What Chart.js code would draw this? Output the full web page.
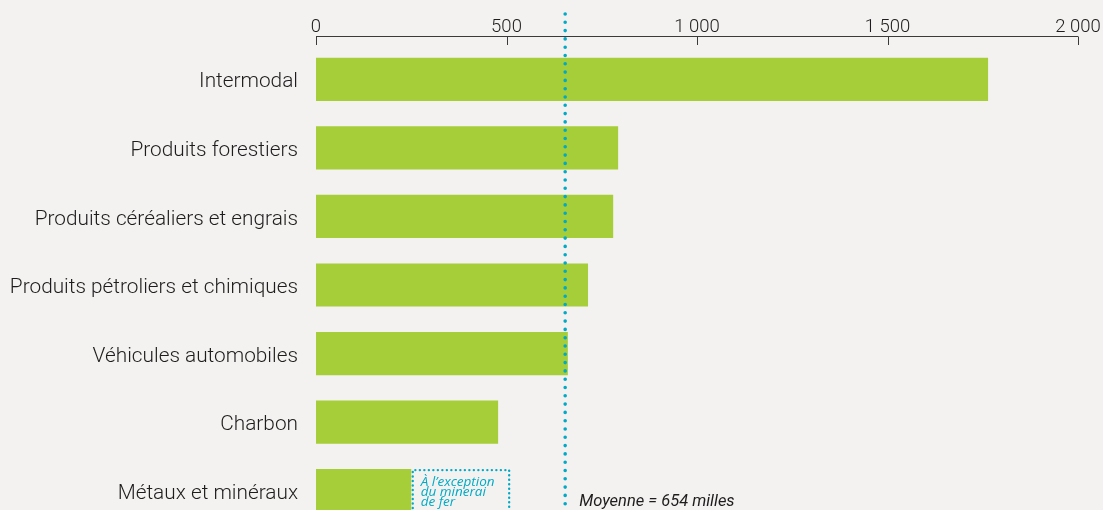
<!DOCTYPE html>
<html><head><meta charset="utf-8">
<script src="https://cdn.jsdelivr.net/npm/chart.js@4"></script>
<style>
html,body{margin:0;padding:0;background:#f3f2f0;overflow:hidden;}
canvas{display:block;}
</style></head><body>
<canvas id="c" width="1103" height="525"></canvas>
<script>
const categories = ["Intermodal","Produits forestiers","Produits céréaliers et engrais","Produits pétroliers et chimiques","Véhicules automobiles","Charbon","Métaux et minéraux"];
const values = [1764, 793, 780, 714, 661, 478, 250];
const withIronOre = [null, null, null, null, null, null, 507];
const meanValue = 654;
const tickValues = [0, 500, 1000, 1500, 2000];
const meanLabel = "Moyenne = 654 milles";
const noteLines = ["À l’exception", "du minerai", "de fer"];

const GREEN = '#a6ce39', TEAL = '#00aac6', TEXT = '#1f1c1d';
const FONT = 'Roboto, "Open Sans", sans-serif';
const FONT2 = '"Open Sans", Roboto, sans-serif';

function fmt(v){ return String(v).replace(/\B(?=(\d{3})+(?!\d))/g, ' '); }
function noPad(s){ s.paddingLeft = 0; s.paddingRight = 0; s.paddingTop = 0; s.paddingBottom = 0; }

const overlay = {
  id: 'overlay',
  afterDatasetsDraw(chart){
    const ctx = chart.ctx, xs = chart.scales.x, ca = chart.chartArea;
    ctx.save();
    // top axis line with inward ticks
    const yLine = ca.top - 8.5;
    ctx.strokeStyle = '#3a3a3a'; ctx.lineWidth = 1;
    ctx.beginPath();
    ctx.moveTo(xs.getPixelForValue(tickValues[0]), yLine);
    ctx.lineTo(xs.getPixelForValue(tickValues[tickValues.length-1]), yLine);
    tickValues.forEach(v => {
      const px = Math.round(xs.getPixelForValue(v)) + 0.5;
      ctx.moveTo(px, yLine); ctx.lineTo(px, ca.top);
    });
    ctx.stroke();

    // dotted box for the value including iron ore
    const meta = chart.getDatasetMeta(0);
    withIronOre.forEach((v, i) => {
      if (v == null) return;
      const bar = meta.data[i];
      const x0 = xs.getPixelForValue(values[i]) + 1.5;
      const x1 = xs.getPixelForValue(v);
      const yTop = bar.y - bar.height/2 + 1;
      const yBot = chart.height + 10;
      ctx.strokeStyle = TEAL; ctx.lineWidth = 2.4; ctx.lineCap = 'round';
      ctx.setLineDash([0, 4.5]);
      ctx.beginPath();
      ctx.moveTo(x0, yBot); ctx.lineTo(x0, yTop); ctx.lineTo(x1, yTop); ctx.lineTo(x1, yBot);
      ctx.stroke();
      ctx.setLineDash([]);
      ctx.fillStyle = TEAL; ctx.font = 'italic 13.5px ' + FONT2;
      ctx.textAlign = 'left'; ctx.textBaseline = 'alphabetic';
      noteLines.forEach((t, k) => ctx.fillText(t, x0 + 8, yTop + 16 + k * 9.7));
    });

    // mean line
    const mx = xs.getPixelForValue(meanValue);
    ctx.strokeStyle = TEAL; ctx.lineWidth = 3.6; ctx.lineCap = 'round';
    ctx.setLineDash([0, 8.3]);
    ctx.beginPath(); ctx.moveTo(mx, 14); ctx.lineTo(mx, chart.height + 10); ctx.stroke();
    ctx.setLineDash([]);
    ctx.fillStyle = TEXT; ctx.font = 'italic 16.5px ' + FONT;
    ctx.textAlign = 'left'; ctx.textBaseline = 'alphabetic';
    ctx.fillText(meanLabel, mx + 14, 506);
    ctx.restore();
  }
};

new Chart(document.getElementById('c'), {
  type: 'bar',
  data: {
    labels: categories,
    datasets: [{ data: values, backgroundColor: GREEN, borderWidth: 0,
      barPercentage: 0.63, categoryPercentage: 1 }]
  },
  options: {
    indexAxis: 'y',
    responsive: false, animation: false,
    layout: { autoPadding: false, padding: { left: 0, right: 25, top: 0, bottom: 0 } },
    plugins: { legend: { display: false }, tooltip: { enabled: false } },
    scales: {
      x: {
        type: 'linear', position: 'top', min: 0, max: 2000,
        afterBuildTicks: s => { s.ticks = tickValues.map(v => ({ value: v })); },
        afterFit: s => { s.height = 45; noPad(s); },
        grid: { display: false, drawTicks: false, tickLength: 0 }, border: { display: false },
        ticks: { padding: 7, color: TEXT, font: { family: FONT, size: 18.5, weight: 300 },
          callback: v => fmt(v), maxRotation: 0, autoSkip: false }
      },
      y: {
        afterFit: s => { s.width = 316; noPad(s); },
        grid: { display: false, drawTicks: false, tickLength: 0 }, border: { display: false },
        ticks: { padding: 18, labelOffset: 3, color: TEXT, font: { family: FONT, size: 20.8, weight: 300 } }
      }
    }
  },
  plugins: [overlay]
});
</script>
</body></html>
